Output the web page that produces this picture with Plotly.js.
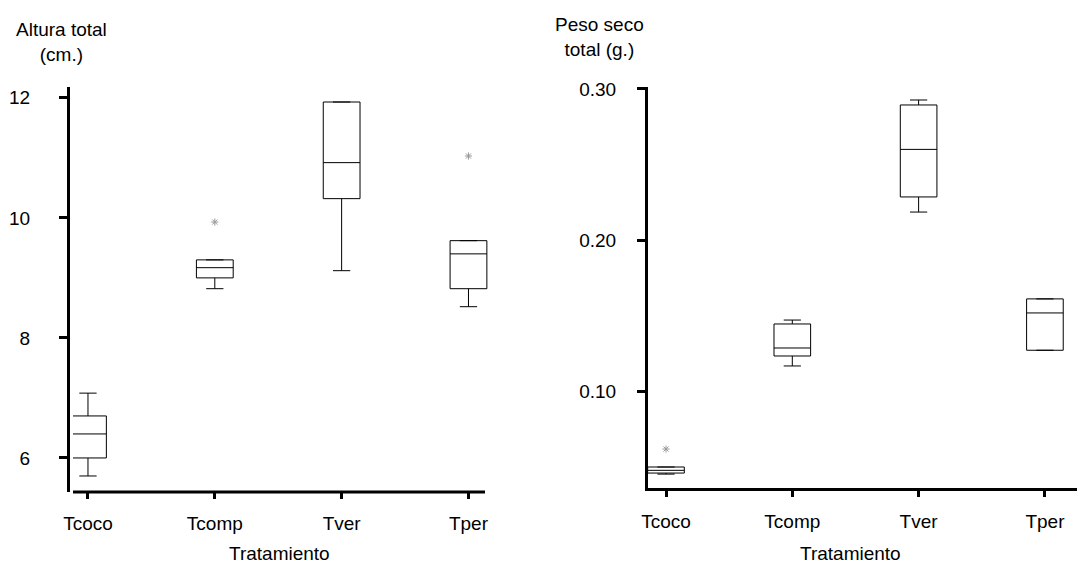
<!DOCTYPE html>
<html>
<head>
<meta charset="utf-8">
<script src="https://cdn.plot.ly/plotly-3.0.1.min.js"></script>
<style>html,body{margin:0;padding:0;background:#fff;}#chart{width:1077px;height:565px;}</style>
</head>
<body>
<div id="chart"></div>
<script>
// Categories (treatments)
const categories = ["Tcoco", "Tcomp", "Tver", "Tper"];

// Left panel: Altura total (cm.)
const alturaLowerFence = [5.70, 8.82, 9.12, 8.52];
const alturaQ1         = [6.00, 9.00, 10.32, 8.82];
const alturaMedian     = [6.40, 9.17, 10.92, 9.40];
const alturaQ3         = [6.70, 9.30, 11.93, 9.62];
const alturaUpperFence = [7.08, 9.30, 11.93, 9.62];
const alturaOutlierCat = ["Tcomp", "Tper"];
const alturaOutlierVal = [9.93, 11.03];
const alturaTickVals   = [6, 8, 10, 12];
const alturaTickText   = ["6", "8", "10", "12"];

// Right panel: Peso seco total (g.)
const pesoLowerFence = [0.0450, 0.1166, 0.2185, 0.1270];
const pesoQ1         = [0.0457, 0.1232, 0.2285, 0.1270];
const pesoMedian     = [0.0475, 0.1285, 0.2600, 0.1517];
const pesoQ3         = [0.0497, 0.1444, 0.2894, 0.1610];
const pesoUpperFence = [0.0497, 0.1470, 0.2927, 0.1610];
const pesoOutlierCat = ["Tcoco"];
const pesoOutlierVal = [0.0616];
const pesoTickVals   = [0.10, 0.20, 0.30];
const pesoTickText   = ["0.10", "0.20", "0.30"];

const W = 1077, H = 565;
const font = {family: "Liberation Sans, Arial, sans-serif", size: 19, color: "#000"};
const tickFont = {family: "Liberation Sans, Arial, sans-serif", size: 19, color: "#000"};

function boxTrace(xa, ya, lf, q1, med, q3, uf) {
  return {
    type: "box", xaxis: xa, yaxis: ya, x: categories,
    lowerfence: lf, q1: q1, median: med, q3: q3, upperfence: uf,
    width: 0.29, whiskerwidth: 0.47,
    line: {color: "#000", width: 1}, fillcolor: "rgba(255,255,255,0)",
    boxpoints: false, hoverinfo: "skip", showlegend: false
  };
}
function outlierTrace(xa, ya, xs, ys) {
  return {
    type: "scatter", mode: "markers", xaxis: xa, yaxis: ya, x: xs, y: ys,
    marker: {symbol: "asterisk-open", size: 6, color: "#999", line: {color: "#999", width: 1}},
    hoverinfo: "skip", showlegend: false
  };
}

const data = [
  boxTrace("x", "y", alturaLowerFence, alturaQ1, alturaMedian, alturaQ3, alturaUpperFence),
  outlierTrace("x", "y", alturaOutlierCat, alturaOutlierVal),
  boxTrace("x2", "y2", pesoLowerFence, pesoQ1, pesoMedian, pesoQ3, pesoUpperFence),
  outlierTrace("x2", "y2", pesoOutlierCat, pesoOutlierVal)
];

const xCommon = {
  type: "category", categoryorder: "array", categoryarray: categories,
  linecolor: "#000", linewidth: 3,
  ticks: "outside", ticklen: 6, tickwidth: 3, tickcolor: "#000",
  showgrid: false, zeroline: false, tickfont: tickFont, ticklabelstandoff: 8,
  fixedrange: true
};
const yCommon = {
  showline: true, linecolor: "#000", linewidth: 3,
  ticks: "outside", ticklen: 8, tickwidth: 3, tickcolor: "#000",
  showgrid: false, zeroline: false, tickfont: tickFont, tickmode: "array",
  fixedrange: true
};

const layout = {
  width: W, height: H,
  margin: {l: 0, r: 0, t: 0, b: 0},
  paper_bgcolor: "#fff", plot_bgcolor: "rgba(0,0,0,0)",
  font: font, showlegend: false,
  xaxis: Object.assign({}, xCommon, {
    domain: [73 / W, 505 / W], anchor: "y", range: [-0.118, 3.288], showline: false
  }),
  yaxis: Object.assign({}, yCommon, {
    domain: [(H - 492) / H, (H - 87) / H], anchor: "free", position: 68 / W,
    range: [5.433, 12.18], tickvals: alturaTickVals, ticktext: alturaTickText,
    ticklabelstandoff: 25
  }),
  xaxis2: Object.assign({}, xCommon, {
    domain: [648 / W, 1], anchor: "y2", range: [-0.1425, 3.254], showline: true
  }),
  yaxis2: Object.assign({}, yCommon, {
    domain: [(H - 488) / H, (H - 87) / H], anchor: "x2",
    range: [0.0358, 0.3013], tickvals: pesoTickVals, ticktext: pesoTickText,
    ticklabelstandoff: 17
  }),
  shapes: [
    {type: "line", xref: "paper", yref: "paper", x0: 73 / W, x1: 485 / W,
     y0: (H - 492) / H, y1: (H - 492) / H, line: {color: "#000", width: 3}}
  ],
  annotations: [
    {text: "Altura total<br>(cm.)", xref: "paper", yref: "paper", x: 61 / W, y: 1 - 42 / H,
     showarrow: false, font: font, align: "center", xanchor: "center", yanchor: "middle"},
    {text: "Peso seco<br>total (g.)", xref: "paper", yref: "paper", x: 599 / W, y: 1 - 37 / H,
     showarrow: false, font: font, align: "center", xanchor: "center", yanchor: "middle"},
    {text: "Tratamiento", xref: "paper", yref: "paper", x: 279 / W, y: 1 - 553 / H,
     showarrow: false, font: font, xanchor: "center", yanchor: "middle"},
    {text: "Tratamiento", xref: "paper", yref: "paper", x: 850 / W, y: 1 - 553 / H,
     showarrow: false, font: font, xanchor: "center", yanchor: "middle"}
  ]
};

Plotly.newPlot("chart", data, layout, {staticPlot: true, displayModeBar: false});
</script>
</body>
</html>
